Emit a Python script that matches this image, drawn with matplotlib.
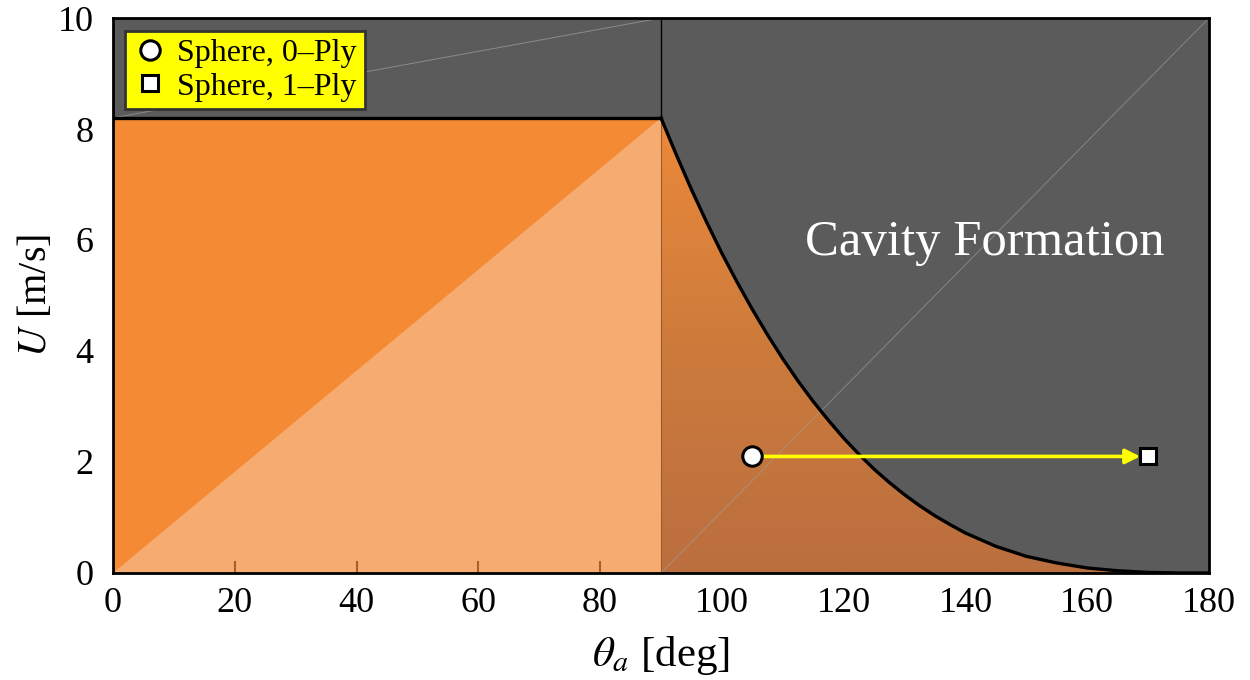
import numpy as np
import matplotlib
matplotlib.use("Agg")
import matplotlib.pyplot as plt
from matplotlib.patches import Polygon
from matplotlib.colors import LinearSegmentedColormap
from matplotlib.lines import Line2D

plt.rcParams['font.family'] = ['Liberation Serif', 'DejaVu Serif']
plt.rcParams['mathtext.fontset'] = 'stix'

# threshold velocity for cavity formation vs advancing contact angle
theta_curve = [90, 92.5, 95, 97.5, 100, 102.5, 105, 107.5, 110, 112.5,
               115, 117.5, 120, 122.5, 125, 127.5, 130, 132.5, 135, 137.5,
               140, 145, 150, 155, 160, 165, 170, 175, 180]
u_curve = [8.20, 7.54, 6.91, 6.32, 5.76, 5.24, 4.75, 4.29, 3.86, 3.46,
           3.09, 2.75, 2.43, 2.14, 1.87, 1.63, 1.41, 1.21, 1.03, 0.87,
           0.72, 0.48, 0.30, 0.18, 0.09, 0.04, 0.01, 0.00, 0.00]
u_plateau = 8.2
theta_wet = 90

# sphere impact cases
sphere_labels = ['Sphere, 0\u2013Ply', 'Sphere, 1\u2013Ply']
sphere_theta = [105, 170]
sphere_u = [2.1, 2.1]

xticks = list(range(0, 181, 20))
yticks = list(range(0, 11, 2))

fig = plt.figure(figsize=(12.5, 6.8), dpi=100)
ax = fig.add_axes([0.0904, 0.1574, 0.8768, 0.8161])
ax.set_xlim(0, 180)
ax.set_ylim(0, 10)
ax.set_facecolor('#5b5b5b')

# no-cavity region below the threshold
region = [(0, 0), (0, u_plateau)] + list(zip(theta_curve, u_curve)) + [(180, 0)]
ax.add_patch(Polygon(region, closed=True, facecolor='#f58a35', edgecolor='none', zorder=1))

# hydrophilic triangle
tri = [(0, 0), (theta_wet, u_plateau), (theta_wet, 0)]
ax.add_patch(Polygon(tri, closed=True, facecolor='#f6ab71', edgecolor='none', zorder=1.2))

# shaded hydrophobic part with a vertical gradient
hyd = [(theta_wet, 0)] + list(zip(theta_curve, u_curve)) + [(180, 0)]
clip = Polygon(hyd, closed=True, facecolor='none', edgecolor='none', transform=ax.transData)
ax.add_patch(clip)
cmap = LinearSegmentedColormap.from_list('hyd', ['#bb6f3f', '#cd7b3c', '#ec893a'])
grad = np.linspace(0, 1, 256).reshape(-1, 1)
im = ax.imshow(grad, extent=[theta_wet, 180, 0, u_plateau], origin='lower',
               cmap=cmap, aspect='auto', zorder=1.3, interpolation='bilinear')
im.set_clip_path(clip)
ax.plot([theta_wet, theta_wet], [0, u_plateau], color='#9a5a2a', lw=0.8, zorder=1.4)

# faint facet edges
ax.plot([theta_wet, 180], [0, 10], color='#a0a0a0', lw=0.7, alpha=0.6, zorder=1.5)
ax.plot([0, theta_wet], [u_plateau, 10], color='#a0a0a0', lw=0.7, alpha=0.7, zorder=1.5)

# threshold boundary
ax.plot([0, theta_wet], [u_plateau, u_plateau], color='black', lw=2.4, zorder=3)
ax.plot(theta_curve, u_curve, color='black', lw=2.4, zorder=3, solid_joinstyle='round')
ax.plot([theta_wet, theta_wet], [u_plateau, 10], color='black', lw=1.0, zorder=3)

ax.text(143.2, 5.95, 'Cavity Formation', color='white', fontsize=36.5,
        ha='center', va='center', zorder=4)

# arrow from 0-ply to 1-ply
ax.annotate('', xy=(sphere_theta[1] - 1.3, sphere_u[1]), xytext=(sphere_theta[0] + 1.2, sphere_u[0]),
            arrowprops=dict(arrowstyle='-|>', color='#ffff00', lw=2.6,
                            mutation_scale=22, shrinkA=0, shrinkB=0), zorder=5)
ax.plot(sphere_theta[0], sphere_u[0], 'o', ms=14, mfc='white', mec='black', mew=2.2, zorder=6)
ax.plot(sphere_theta[1], sphere_u[1], 's', ms=11.5, mfc='white', mec='black', mew=2.2, zorder=6)

handles = [Line2D([], [], ls='none', marker='o', ms=14, mfc='white', mec='black', mew=2.2),
           Line2D([], [], ls='none', marker='s', ms=11.5, mfc='white', mec='black', mew=2.2)]
leg = ax.legend(handles, sphere_labels, loc='upper left', bbox_to_anchor=(0.011, 0.977),
                fontsize=23, frameon=True, fancybox=False, handletextpad=0.3,
                borderpad=0.24, labelspacing=0.14, handlelength=1.1, borderaxespad=0)
leg.get_frame().set_facecolor('#ffff00')
leg.get_frame().set_edgecolor('#333333')
leg.get_frame().set_linewidth(2.0)
leg.get_frame().set_alpha(1)
leg.set_zorder(7)

ax.set_xticks(xticks)
ax.set_yticks(yticks)
ax.tick_params(axis='both', direction='in', labelsize=26, length=9, width=1.5,
               color='#a85f2a', pad=10)
ax.tick_params(axis='y', length=0, pad=14)
for t, v in zip(ax.xaxis.get_major_ticks(), xticks):
    t.tick2line.set_visible(False)
    if v == 0 or v >= theta_wet:
        t.tick1line.set_visible(False)

for s in ax.spines.values():
    s.set_linewidth(2.0)
    s.set_color('black')
    s.set_zorder(8)

ax.set_xlabel(r'$\theta_a$ [deg]', fontsize=31, labelpad=10)
ax.set_ylabel(r'$U$ [m/s]', fontsize=29, labelpad=2)

fig.savefig('out.png', dpi=100)
